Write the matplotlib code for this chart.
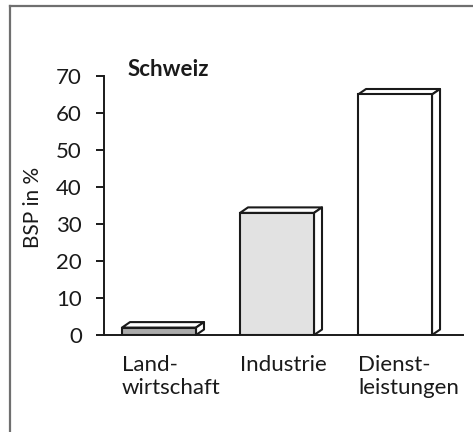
import matplotlib
matplotlib.use("Agg")
import matplotlib.pyplot as plt
from matplotlib.patches import Polygon
from matplotlib.lines import Line2D

categories = ["Land-\nwirtschaft", "Industrie", "Dienst-\nleistungen"]
values = [2, 33, 65]
fills = ["#ababab", "#e2e2e2", "#ffffff"]
title = "Schweiz"
ylabel = "BSP in %"
yticks = [0, 10, 20, 30, 40, 50, 60, 70]

plt.rcParams['font.family'] = ['Lato', 'DejaVu Sans']
TXT = "#1a1a1a"
FS = 16

W, H = 473, 432
fig = plt.figure(figsize=(W / 100, H / 100), dpi=100)
fig.patch.set_facecolor("white")

left, right, bottom, top = 104, 463, 432 - 335, 432 - 76
ax = fig.add_axes([left / W, bottom / H, (right - left) / W, (top - bottom) / H])

ax.set_ylim(0, 70)
ax.set_xlim(-0.466, 2.576)
width = 0.627
xs = list(range(len(values)))

ax.bar(xs, values, width=width, color=fills, edgecolor=TXT, linewidth=1.5, zorder=3)

# 3D top and side faces, offset in pixels converted through the data transform
sx, sy = 8, 5.5
inv = ax.transData.inverted()
for x, v in zip(xs, values):
    xl, xr = x - width / 2, x + width / 2
    p0 = ax.transData.transform((xl, v))
    p1 = ax.transData.transform((xr, v))
    pb = ax.transData.transform((xr, 0))
    tl = inv.transform((p0[0] + sx, p0[1] + sy))
    tr = inv.transform((p1[0] + sx, p1[1] + sy))
    br = inv.transform((pb[0] + sx, pb[1] + sy))
    topface = Polygon([(xl, v), (xr, v), tuple(tr), tuple(tl)], closed=True,
                      facecolor="white", edgecolor=TXT, linewidth=1.5,
                      joinstyle="round", zorder=2, clip_on=False)
    side = Polygon([(xr, 0), (xr, v), tuple(tr), tuple(br)], closed=True,
                   facecolor="white", edgecolor=TXT, linewidth=1.5,
                   joinstyle="round", zorder=2, clip_on=False)
    ax.add_patch(topface)
    ax.add_patch(side)

for s in ["top", "right"]:
    ax.spines[s].set_visible(False)
for s in ["left", "bottom"]:
    ax.spines[s].set_linewidth(1.4)
    ax.spines[s].set_color(TXT)
ax.spines["bottom"].set_zorder(4)

ax.set_yticks(yticks)
ax.set_yticklabels([str(t) for t in yticks], fontsize=FS, color=TXT)
ax.tick_params(axis="y", length=6, width=1.4, color=TXT, pad=10)
ax.set_xticks(xs)
ax.set_xticklabels([])
ax.tick_params(axis="x", length=0)

for x, c in zip(xs, categories):
    ax.text(x - width / 2, -5.3, c, ha="left", va="top", fontsize=FS,
            color=TXT, linespacing=1.2)

fig.text(33 / W, 1 - 207 / H, ylabel, rotation=90, ha="center", va="center",
         fontsize=15, color=TXT)
ax.text(-0.265, 71.8, title, ha="left", va="center", fontsize=16,
        fontweight="bold", color=TXT)

# outer frame (left and top visible)
fig.add_artist(Line2D([10 / W, 10 / W], [0, 1 - 6 / H], transform=fig.transFigure,
                      color="#6f6f6f", linewidth=1.6))
fig.add_artist(Line2D([10 / W, 1], [1 - 6 / H, 1 - 6 / H], transform=fig.transFigure,
                      color="#6f6f6f", linewidth=1.6))

fig.savefig("out.png", dpi=100, facecolor="white")
